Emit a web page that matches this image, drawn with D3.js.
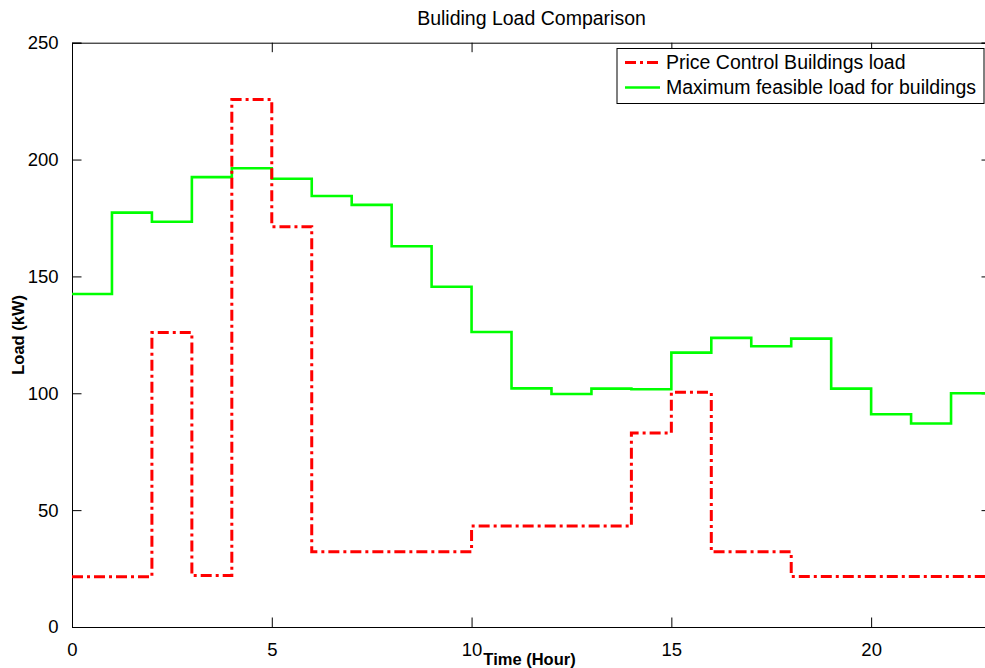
<!DOCTYPE html>
<html><head><meta charset="utf-8">
<script src="https://cdn.jsdelivr.net/npm/d3@7"></script>
<style>body{margin:0;background:#fff}svg{display:block}text{font-family:"Liberation Sans",Arial,Helvetica,sans-serif}</style>
</head><body><svg id="c" width="985" height="668"></svg>
<script>
// Data (hourly step values, each value holds from hour i to i+1)
const priceControlLoad = [21.5,21.5,126,22,225.7,171.3,32.2,32.2,32.2,32.2,43.2,43.2,43.2,43.2,83,100.4,32.2,32.2,21.6,21.6,21.6,21.6,21.6];
const maxFeasibleLoad = [142.5,177.3,173.4,192.5,196.3,191.8,184.4,180.6,162.9,145.6,126.2,102.1,99.7,102,101.7,117.4,123.7,120.1,123.4,102,91,87.1,100];
const xTicks = [0,5,10,15,20];
const yTicks = [0,50,100,150,200,250];
const seriesNames = ["Price Control Buildings load","Maximum feasible load for buildings"];

const svg = d3.select("#c");
const L = 72, R = 991, T = 42.7, B = 627;
const x = d3.scaleLinear().domain([0,23]).range([L,R]);
const y = d3.scaleLinear().domain([0,250]).range([B,T]);

function stepPts(vals){
  const pts = [];
  vals.forEach((v,i)=>{ pts.push([i,v]); pts.push([i+1,v]); });
  return pts.filter(p=>p[0]<=23);
}
const line = d3.line().x(d=>x(d[0])).y(d=>y(d[1]));

// axes (box with inward ticks on all sides)
const tl = 9.5;
const fs = "18.5px";
svg.append("g").attr("transform",`translate(0,${B})`)
  .call(d3.axisBottom(x).tickValues(xTicks).tickSize(-tl).tickPadding(tl+6).tickFormat(d3.format("d")))
  .call(g=>{g.select(".domain").attr("stroke","#000");g.selectAll("text").attr("font-size",fs).attr("fill","#000");g.selectAll("line").attr("stroke","#000")});
svg.append("g").attr("transform",`translate(0,${T})`)
  .call(d3.axisTop(x).tickValues(xTicks).tickSize(-tl).tickFormat(""))
  .call(g=>{g.select(".domain").attr("stroke","#000");g.selectAll("line").attr("stroke","#000")});
svg.append("g").attr("transform",`translate(${L},0)`)
  .call(d3.axisLeft(y).tickValues(yTicks).tickSize(-tl).tickPadding(tl+4))
  .call(g=>{g.select(".domain").attr("stroke","#000");g.selectAll("text").attr("font-size",fs).attr("fill","#000");g.selectAll("line").attr("stroke","#000")});
svg.append("g").attr("transform",`translate(${R},0)`)
  .call(d3.axisRight(y).tickValues(yTicks).tickSize(-tl).tickFormat(""))
  .call(g=>{g.select(".domain").attr("stroke","#000");g.selectAll("line").attr("stroke","#000")});

// series
svg.append("path").datum(stepPts(maxFeasibleLoad)).attr("d",line)
  .attr("fill","none").attr("stroke","#00ff00").attr("stroke-width",2.6);
svg.append("path").datum(stepPts(priceControlLoad)).attr("d",line)
  .attr("fill","none").attr("stroke","#ff0000").attr("stroke-width",3)
  .attr("stroke-dasharray","11,4,3,4");

// title & labels
svg.append("text").attr("x",(L+R)/2).attr("y",25).attr("text-anchor","middle")
  .attr("font-size","19.5px").text("Buliding Load Comparison");
svg.append("text").attr("x",(L+R)/2 - 2).attr("y",665).attr("text-anchor","middle")
  .attr("font-size","16.5px").attr("font-weight","bold").text("Time (Hour)");
svg.append("text").attr("transform",`translate(24,${(T+B)/2}) rotate(-90)`).attr("text-anchor","middle")
  .attr("font-size","16.5px").attr("font-weight","bold").text("Load (kW)");

// legend
const lg = svg.append("g");
lg.append("rect").attr("x",617).attr("y",48.5).attr("width",367).attr("height",55)
  .attr("fill","#fff").attr("stroke","#000").attr("stroke-width",1);
lg.append("line").attr("x1",625).attr("x2",658).attr("y1",62.5).attr("y2",62.5)
  .attr("stroke","#ff0000").attr("stroke-width",3).attr("stroke-dasharray","11,4,3,4");
lg.append("line").attr("x1",625).attr("x2",660).attr("y1",87.5).attr("y2",87.5)
  .attr("stroke","#00ff00").attr("stroke-width",2.6);
lg.append("text").attr("x",666).attr("y",68.5).attr("font-size","19.5px").text(seriesNames[0]);
lg.append("text").attr("x",666).attr("y",93.5).attr("font-size","19.5px").text(seriesNames[1]);
</script></body></html>
